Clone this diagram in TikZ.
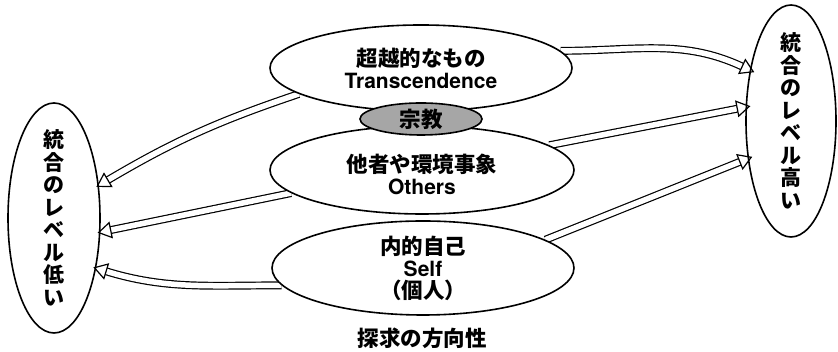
\documentclass[tikz,border=0pt]{standalone}
\usepackage{fontspec}
\setmainfont{TeX Gyre Heros}
\newfontfamily\lat{TeX Gyre Heros}
\newfontfamily\jp{Noto Sans CJK JP}
\usetikzlibrary{arrows.meta,shapes.geometric}
\newcommand\J[1]{{\jp\bfseries\fontsize{21.5}{22}\selectfont #1}}
\begin{document}
\begin{tikzpicture}[x=1pt,y=1pt,
  oval/.style={ellipse, draw, line width=1.6pt, inner sep=0pt, align=center,
    font=\lat\bfseries\fontsize{21}{22}\selectfont},
  mid/.style={oval, fill=white},
  vtext/.style={align=center, inner sep=0pt, font=\jp\bfseries\fontsize{21}{22.5}\selectfont},
  dbl/.style={line width=1.2pt, double=white, double distance=5.5pt,
    -{Triangle[open, length=14pt, width=17pt]}, shorten >=-3pt},
  dblr/.style={dbl, shorten >=-5pt}]
\useasboundingbox (0,0) rectangle (838,352);
% side ellipses
\node[oval, minimum width=92pt, minimum height=230pt] (L) at (54,134) {};
\node[vtext] (Lt) at (L) {統\\合\\の\\レ\\ベ\\ル\\低\\い};
\node[oval, minimum width=90pt, minimum height=232pt] (R) at (791,231) {};
\node[vtext] (Rt) at (R) {統\\合\\の\\レ\\ベ\\ル\\高\\い};
% centre ellipses (for anchors)
\path node[oval, draw=none, minimum width=302pt, minimum height=86pt] (T) at (421,284) {}
      node[oval, draw=none, minimum width=304pt, minimum height=88pt] (O) at (422,182) {}
      node[oval, draw=none, minimum width=302pt, minimum height=94pt] (S) at (423,84) {};
% arrows
\draw[dbl] (T.192.7) to[bend right=6] (L.36);
\draw[dbl] (O.190.7) -- (L.-17);
\draw[dbl] (S.187.6) to[out=180,in=-17] (L.-50);
\draw[dblr] (T.7.2) to[out=0,in=155] (R.129.8);
\draw[dblr] (O.11.9) -- (R.163.8);
\draw[dblr] (S.13.6) -- (R.221);
% centre ellipses drawn
\node[mid, minimum width=302pt, minimum height=86pt] (T2) at (T) {\J{超越的なもの}\\Transcendence};
\node[mid, minimum width=304pt, minimum height=88pt] (O2) at (O) {};
\node[align=center, inner sep=0pt, font=\lat\bfseries\fontsize{21}{22}\selectfont] (Ot) at ([yshift=-4pt]O) {\J{他者や環境事象}\\Others};
\node[mid, minimum width=302pt, minimum height=94pt] (S2) at (S) {\J{内的自己}\\Self\\\J{（個人）}};
\node[oval, fill=gray!70, minimum width=122pt, minimum height=32pt] (Z) at (421,233) {\J{宗教}};
\node (dir) at (422,14) {\J{探求の方向性}};
\end{tikzpicture}
\end{document}
